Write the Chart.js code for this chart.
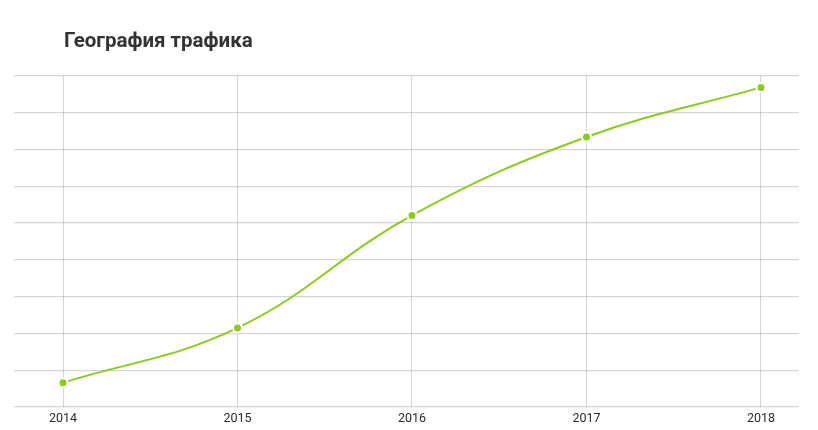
<!DOCTYPE html>
<html>
<head>
<meta charset="utf-8">
<script src="https://cdn.jsdelivr.net/npm/chart.js@4/dist/chart.umd.min.js"></script>
<style>
  html, body { margin: 0; padding: 0; background: #fff; }
  #wrap { position: relative; width: 818px; height: 430px; }
  #title {
    position: absolute; left: 64px; top: 28px; margin: 0;
    font: bold 20.5px Roboto, sans-serif; color: #333;
  }
  #chart { position: absolute; left: 0; top: 0; }
</style>
</head>
<body>
<div id="wrap">
  <canvas id="chart" width="818" height="430"></canvas>
  <h2 id="title">География трафика</h2>
</div>
<script>
// данные графика
const years = [2014, 2015, 2016, 2017, 2018];
const traffic = [0.66, 2.15, 5.21, 7.34, 8.69];
const yTicks = [0, 1, 2, 3, 4, 5, 6, 7, 8, 9];

document.addEventListener('DOMContentLoaded', function () {
  const ctx = document.getElementById('chart');
  const lineColor = '#8dc91f';
  const gridColor = 'rgba(0,0,0,0.16)';

  new Chart(ctx, {
    type: 'line',
    data: {
      datasets: [{
        label: 'Трафик',
        data: years.map((y, i) => ({ x: y, y: traffic[i] })),
        borderColor: lineColor,
        borderWidth: 2,
        backgroundColor: lineColor,
        pointBackgroundColor: lineColor,
        pointBorderColor: '#fff',
        pointBorderWidth: 2,
        pointRadius: 4.5,
        tension: 0.4,
        fill: false
      }]
    },
    options: {
      responsive: false,
      animation: false,
      layout: { padding: { left: 14, right: 19, top: 76, bottom: 0 } },
      plugins: {
        legend: { display: false },
        tooltip: { enabled: false }
      },
      scales: {
        x: {
          type: 'linear',
          min: 2013.719,
          max: 2018.218,
          afterBuildTicks: (axis) => { axis.ticks = years.map(v => ({ value: v })); },
          grid: { color: gridColor, drawTicks: false },
          border: { display: false },
          ticks: {
            padding: 4,
            color: '#2b2b2b',
            font: { family: 'Roboto', size: 12.5 },
            callback: (v) => String(v)
          }
        },
        y: {
          min: yTicks[0],
          max: yTicks[yTicks.length - 1],
          afterBuildTicks: (axis) => { axis.ticks = yTicks.map(v => ({ value: v })); },
          grid: { color: gridColor, drawTicks: false, lineWidth: 1.3 },
          border: { display: false },
          ticks: { display: false }
        }
      }
    }
  });
});
</script>
</body>
</html>
